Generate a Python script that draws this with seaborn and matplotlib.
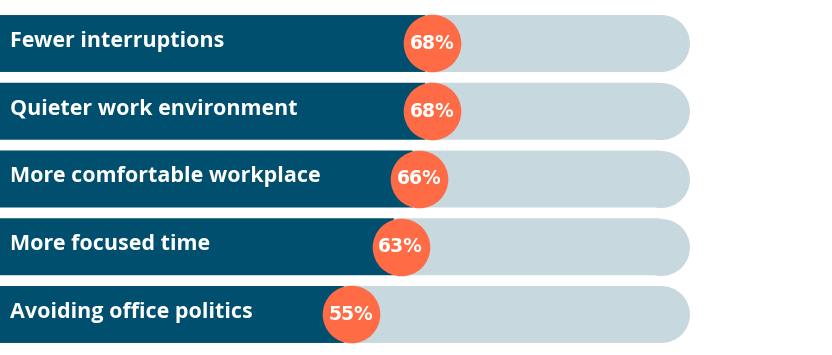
import matplotlib
matplotlib.use("Agg")
import matplotlib.pyplot as plt
import seaborn as sns
import pandas as pd

# data
labels = ["Fewer interruptions", "Quieter work environment", "More comfortable workplace",
          "More focused time", "Avoiding office politics"]
values = [68, 68, 66, 63, 55]
pct_labels = ["68%", "68%", "66%", "63%", "55%"]

df = pd.DataFrame({"label": labels, "value": values})

DARK = "#004f6e"
TRACK = "#c8d8df"
ORANGE = "#ff6b45"
TRACK_END = 110.1   # right end of the grey track (x units)
CAP_R = 4.4         # rounded end of the track
DOT_SHIFT = 1.1

sns.set_theme(style="white")
plt.rcParams["font.family"] = ["Open Sans", "DejaVu Sans"]

fig = plt.figure(figsize=(8.32, 3.55), dpi=100)
ax = fig.add_axes([0, 0, 1, 1])

# grey track with a round right end
df["track"] = TRACK_END - CAP_R
sns.barplot(data=df, x="track", y="label", color=TRACK, width=0.84,
            saturation=1, ax=ax, linewidth=0)
ax.scatter(df["track"], range(len(df)), s=1680, color=TRACK, linewidths=0, zorder=2)

# dark value bars
sns.barplot(data=df, x="value", y="label", color=DARK, width=0.84,
            saturation=1, ax=ax, linewidth=0)
for p in ax.patches:
    p.set_snap(False)

# orange dots
ax.scatter(df["value"] + DOT_SHIFT, range(len(df)), s=1720, color=ORANGE,
           linewidths=0, zorder=3)

for i, (lab, v, pl) in enumerate(zip(labels, values, pct_labels)):
    ax.text(1.6, i - 0.03, lab, color="white", fontsize=15.5, fontweight="bold",
            va="center", ha="left", zorder=4)
    ax.text(v + DOT_SHIFT, i, pl, color="white", fontsize=13.5, fontweight="bold",
            family="DejaVu Sans", va="center", ha="center", zorder=4)

ax.set_xlim(0, 133.1)
ax.set_ylim(4.598, -0.642)
ax.set_axis_off()

fig.savefig("out.png", dpi=100)
